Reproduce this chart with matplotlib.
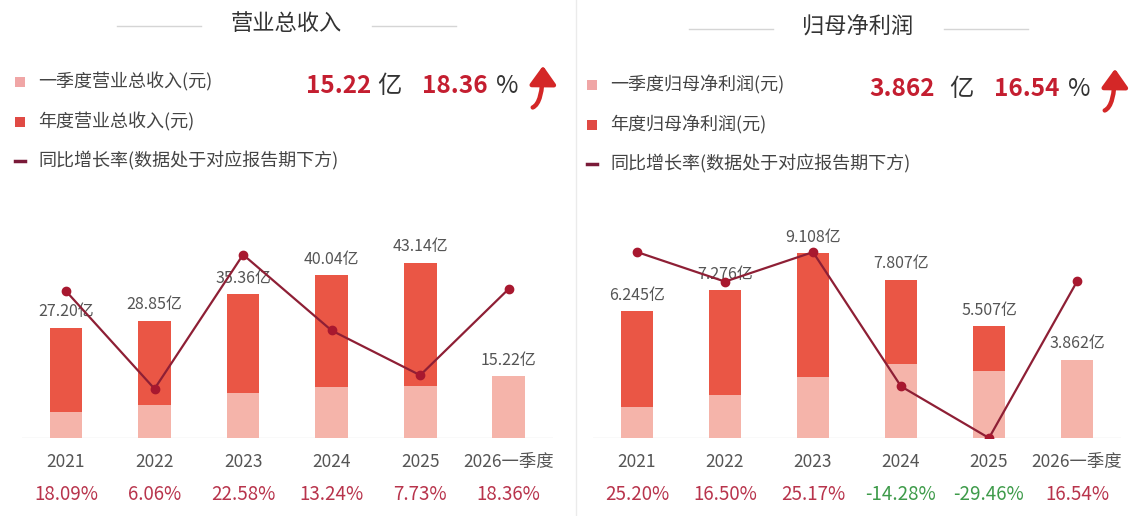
import numpy as np
import matplotlib
matplotlib.use('Agg')
import matplotlib.pyplot as plt
from matplotlib import transforms

plt.rcParams['font.family'] = ['Noto Sans CJK SC', 'DejaVu Sans']

categories = ['2021', '2022', '2023', '2024', '2025', '2026一季度']

# 营业总收入 (亿元)
rev_annual = [27.20, 28.85, 35.36, 40.04, 43.14, np.nan]
rev_q1 = [6.4, 8.1, 11.0, 12.5, 12.86, 15.22]
rev_growth = [18.09, 6.06, 22.58, 13.24, 7.73, 18.36]

# 归母净利润 (亿元)
profit_annual = [6.245, 7.276, 9.108, 7.807, 5.507, np.nan]
profit_q1 = [1.53, 2.13, 3.02, 3.66, 3.314, 3.862]
profit_growth = [25.20, 16.50, 25.17, -14.28, -29.46, 16.54]

W, H = 1144, 516
DARK = '#EA5645'
LIGHT = '#F5B4AA'
LINE = '#8E1F35'
MARK = '#A8182F'
POS = '#B8344C'
NEG = '#3E9B4A'
BIG = '#C41E30'

fig = plt.figure(figsize=(W / 100, H / 100), dpi=100)
fig.patch.set_facecolor('white')


def fx(x):
    return x / W


def fy(y):
    return 1 - y / H


def panel(x0, left, right, title, legend_names, annual, q1, growth, decimals,
          bar_max, line_lim, big_val, big_pct, dy):
    # header
    fig.text(fx(x0 + 286), fy(24 + dy), title, ha='center', va='center',
             fontsize=16, color='#333333')
    for a, b in [(117, 201), (372, 456)]:
        fig.add_artist(plt.Line2D([fx(x0 + a), fx(x0 + b)], [fy(26 + dy)] * 2,
                                  color='#D5D5D5', lw=1))

    # legend
    rows = [82 + dy, 122 + dy, 161 + dy]
    fig.add_artist(plt.Rectangle((fx(x0 + 15), fy(rows[0] + 5)), 10 / W, 10 / H,
                                 color='#F0A6A6', lw=0))
    fig.add_artist(plt.Rectangle((fx(x0 + 15), fy(rows[1] + 5)), 10 / W, 10 / H,
                                 color='#E04A44', lw=0))
    fig.add_artist(plt.Line2D([fx(x0 + 15), fx(x0 + 25)], [fy(rows[2])] * 2,
                              color='#7A1A38', lw=2.5))
    for r, name in zip(rows, legend_names):
        fig.text(fx(x0 + 38), fy(r), name, ha='left', va='center',
                 fontsize=13, color='#444444')

    # big numbers
    by = fy(86 + dy)
    fig.text(fx(x0 + big_val[1]), by, big_val[0], ha='left', va='center',
             fontsize=17.5, fontweight='bold', color=BIG)
    fig.text(fx(x0 + 377), by, '亿', ha='left', va='center',
             fontsize=17.5, color='#333333')
    fig.text(fx(x0 + 422), by, big_pct, ha='left', va='center',
             fontsize=17.5, fontweight='bold', color=BIG)
    fig.text(fx(x0 + 496), by, '%', ha='left', va='center',
             fontsize=17.5, color='#333333')
    fig.add_artist(matplotlib.patches.FancyArrowPatch(
        (fx(x0 + 530), fy(108 + dy)), (fx(x0 + 543), fy(63 + dy)),
        transform=fig.transFigure,
        connectionstyle='angle3,angleA=0,angleB=90',
        arrowstyle='-|>,head_width=5,head_length=7', color='#D42727', lw=3.2,
        mutation_scale=1.6))

    # chart
    ax = fig.add_axes([fx(left), fy(438), fx(right - left), (438 - 235) / H])
    x = np.arange(len(categories))
    ax.bar(x, annual, width=0.37, color=DARK, zorder=2)
    ax.bar(x, q1, width=0.37, color=LIGHT, zorder=3)
    ax.set_xlim(-0.5, len(categories) - 0.5)
    ax.set_ylim(0, bar_max)
    ax.axhline(0, color='#E4E4E4', lw=1, zorder=1)
    for i in range(len(categories)):
        top = annual[i] if not np.isnan(annual[i]) else q1[i]
        ax.annotate(f'{top:.{decimals}f}亿', (x[i], top), xytext=(0, 11.5),
                    textcoords='offset points', ha='center', va='center',
                    fontsize=11.5, color='#555555', zorder=4)
    for s in ax.spines.values():
        s.set_visible(False)
    ax.set_xticks([])
    ax.set_yticks([])

    tr = transforms.blended_transform_factory(ax.transData, fig.transFigure)
    for i, cat in enumerate(categories):
        ax.text(x[i], fy(462), cat, transform=tr, ha='center', va='center',
                fontsize=12.5, color='#555555')
        g = growth[i]
        ax.text(x[i], fy(495), f'{g:.2f}%', transform=tr, ha='center',
                va='center', fontsize=13.5, color=POS if g >= 0 else NEG)

    ax2 = ax.twinx()
    ax2.plot(x, growth, color=LINE, lw=1.6, marker='o', markersize=6,
             markerfacecolor=MARK, markeredgecolor=MARK, zorder=5)
    ax2.set_ylim(*line_lim)
    ax2.set_xlim(-0.5, len(categories) - 0.5)
    for s in ax2.spines.values():
        s.set_visible(False)
    ax2.set_yticks([])
    return ax


panel(0, 21.7, 553, '营业总收入',
      ['一季度营业总收入(元)', '年度营业总收入(元)', '同比增长率(数据处于对应报告期下方)'],
      rev_annual, rev_q1, rev_growth, 2, 50, (0, 25),
      ('15.22', 306), '18.36', 0)

panel(572, 593, 1121, '归母净利润',
      ['一季度归母净利润(元)', '年度归母净利润(元)', '同比增长率(数据处于对应报告期下方)'],
      profit_annual, profit_q1, profit_growth, 3, 10, (-29.46, 30.2),
      ('3.862', 297), '16.54', 3)

# divider between the two cards
fig.add_artist(plt.Line2D([fx(576), fx(576)], [0, 1], color='#EBEBEB', lw=1))

fig.savefig('out.png', dpi=100)
